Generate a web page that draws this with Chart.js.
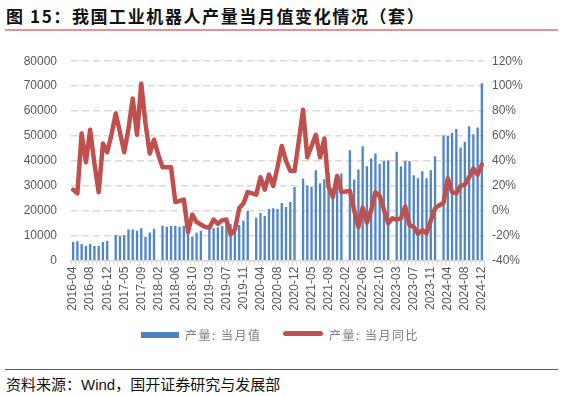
<!DOCTYPE html>
<html lang="zh">
<head>
<meta charset="UTF-8" />
<title>工业机器人产量</title>
<script src="https://cdn.jsdelivr.net/npm/chart.js@4"></script>
<style>
  body { margin: 0; background: #fff; width: 563px; height: 396px; position: relative; overflow: hidden;
         font-family: "Noto Sans CJK SC", "Liberation Sans", sans-serif; }
  .title { position: absolute; left: 6px; top: 3px; font-size: 17px; font-weight: bold; color: #111; letter-spacing: 1.6px; white-space: nowrap; }
  .rule1 { position: absolute; left: 5px; top: 29px; width: 553px; height: 2px; background: #e39096; }
  .chartBox { position: absolute; left: 0; top: 40px; width: 563px; height: 290px; }
  .legend { position: absolute; top: 326px; left: 0; font-size: 12px; color: #808080; letter-spacing: 1.5px; }
  .legend span { position: absolute; white-space: nowrap; }
  .rule2 { position: absolute; left: 5px; top: 369px; width: 553px; height: 1px; background: #d8262e; }
  .source { position: absolute; left: 6px; top: 373px; font-size: 15px; color: #111; white-space: nowrap; }
</style>
</head>
<body>
<div class="title">图 15：我国工业机器人产量当月值变化情况（套）</div>
<div class="rule1"></div>
<div class="chartBox"><canvas id="myChart" width="563" height="290"></canvas></div>
<div class="legend">
  <span style="left:141px;top:6px;width:38px;height:6px;background:#4f81bd;"></span>
  <span style="left:185px;top:0;">产量: 当月值</span>
  <span style="left:283px;top:5px;width:40px;height:5px;background:#c0504d;border-radius:3px;"></span>
  <span style="left:329px;top:0;">产量: 当月同比</span>
</div>
<div class="rule2"></div>
<div class="source">资料来源：<span style="font-family:'Liberation Sans',Arial,sans-serif;">Wind</span>，国开证券研究与发展部</div>

<script>
// months (January is merged into February in the source data)
const months = [
  '2016-04','2016-05','2016-06','2016-07','2016-08','2016-09','2016-10','2016-11','2016-12',
  '2017-02','2017-03','2017-04','2017-05','2017-06','2017-07','2017-08','2017-09','2017-10','2017-11','2017-12',
  '2018-02','2018-03','2018-04','2018-05','2018-06','2018-07','2018-08','2018-09','2018-10','2018-11','2018-12',
  '2019-02','2019-03','2019-04','2019-05','2019-06','2019-07','2019-08','2019-09','2019-10','2019-11','2019-12',
  '2020-02','2020-03','2020-04','2020-05','2020-06','2020-07','2020-08','2020-09','2020-10','2020-11','2020-12',
  '2021-02','2021-03','2021-04','2021-05','2021-06','2021-07','2021-08','2021-09','2021-10','2021-11','2021-12',
  '2022-02','2022-03','2022-04','2022-05','2022-06','2022-07','2022-08','2022-09','2022-10','2022-11','2022-12',
  '2023-02','2023-03','2023-04','2023-05','2023-06','2023-07','2023-08','2023-09','2023-10','2023-11','2023-12',
  '2024-02','2024-03','2024-04','2024-05','2024-06','2024-07','2024-08','2024-09','2024-10','2024-11','2024-12'
];

// 产量: 当月值 (套)
const output = [
  7500, 7800, 6700, 5900, 6700, 5900, 5900, 7500, 7900,
  null, 10300, 9900, 10300, 12500, 12500, 12000, 13000, 9600, 11300, 12800,
  null, 14000, 13600, 13900, 13900, 13600, 14000, 11400, 9600, 11200, 12000,
  null, 12400, 13000, 13400, 13900, 15000, 14600, 11500, 14300, 16000, 19900,
  null, 17200, 19100, 17900, 20700, 21000, 20700, 23100, 21500, 23500, 29600,
  null, 33000, 30100, 29700, 36300, 31100, 32700, 35400, 29000, 34300, 35000,
  null, 44300, 32600, 36600, 45900, 37900, 41000, 43000, 38800, 40000, 40300,
  null, 43700, 37900, 40000, 40000, 34300, 33100, 35900, 33100, 36300, 41900,
  null, 50300, 50000, 51300, 52800, 45400, 47700, 53900, 50700, 53400, 71200
];

// 产量: 当月同比 (%)
const yoy = [
  17, 14, 62, 39, 65, 38, 15, 54, 47,
  61, 78, 63, 47, 66, 90, 61, 102, 70, 46, 57,
  45, 35, 35, 35, 7, 8, 9, -17, -3, -9, -11,
  -13, -13.5, -7, -10.5, -7.5, -7, -19, -15, 2, 6, 15,
  14, 13, 27, 17, 29, 20, 35, 52, 40, 32, 32,
  56, 81, 43, 52, 61, 43, 58, 19, 11, 28, 15,
  15.5, 16, 0.5, -13, 2.5, -9.5, 0.5, 15, 12, 1, -10,
  -6, -7, -6, 3.5, -11.5, -13, -18.5, -15.5, -18, -8, 2,
  4.5, 6.5, 26, 15, 14, 20, 21, 27, 34, 29, 37
];

const tickFont = { family: "'Liberation Sans', Arial, sans-serif", size: 12 };

const ctx = document.getElementById('myChart').getContext('2d');
const myChart = new Chart(ctx, {
  type: 'bar',
  data: {
    labels: months,
    datasets: [{
      type: 'line',
      label: '产量: 当月同比',
      data: yoy,
      yAxisID: 'y1',
      borderColor: '#c0504d',
      backgroundColor: '#c0504d',
      borderWidth: 4.5,
      borderCapStyle: 'round',
      borderJoinStyle: 'round',
      pointRadius: 0,
      tension: 0,
      order: 0
    }, {
      label: '产量: 当月值',
      data: output,
      yAxisID: 'y',
      backgroundColor: '#5286c4',
      barPercentage: 0.55,
      categoryPercentage: 1,
      order: 1
    }]
  },
  options: {
    responsive: false,
    animation: false,
    layout: { padding: { top: 20.7, left: 0, right: 0, bottom: 0 } },
    plugins: { legend: { display: false }, tooltip: { enabled: false } },
    scales: {
      x: {
        grid: { drawOnChartArea: false, color: '#d9d9d9', tickLength: 4 },
        border: { color: '#d9d9d9', width: 1.5 },
        ticks: {
          autoSkip: false, minRotation: 90, maxRotation: 90, padding: 2,
          color: '#595959', font: tickFont,
          callback: function (v, i) { return i % 4 === 0 ? months[i] : ''; }
        },
        afterFit: function (s) { s.height = 69.3; }
      },
      y: {
        position: 'left', min: 0, max: 80000,
        ticks: { stepSize: 10000, padding: 14, color: '#595959', font: tickFont,
                 callback: function (v) { return String(v); } },
        grid: { color: '#d9d9d9', lineWidth: 1.5, drawTicks: false },
        border: { display: false, dash: [7, 4] },
        afterFit: function (s) { s.width = 71; }
      },
      y1: {
        position: 'right', min: -40, max: 120,
        ticks: { stepSize: 20, padding: 8, color: '#595959', font: tickFont,
                 callback: function (v) { return v + '%'; } },
        grid: { display: false, drawTicks: false },
        border: { display: false },
        afterFit: function (s) { s.width = 79; }
      }
    }
  }
});
</script>
</body>
</html>
